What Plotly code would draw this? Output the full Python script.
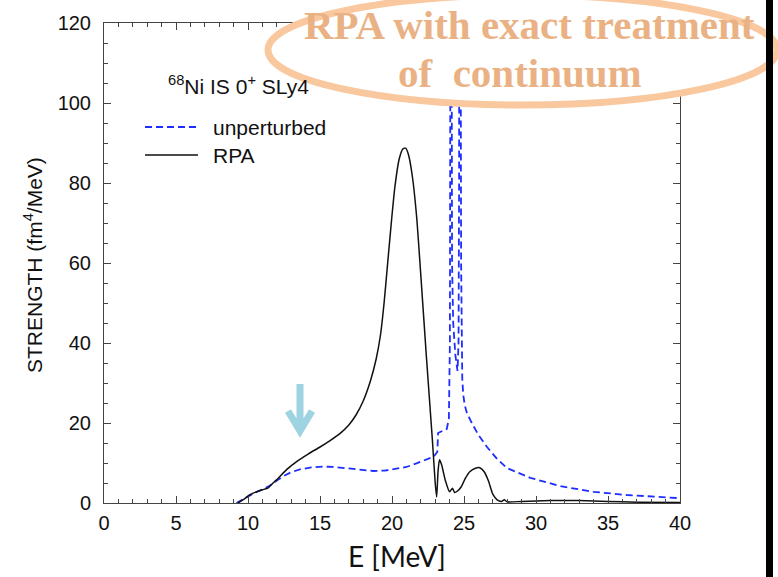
import plotly.graph_objects as go

# ---------------- data ----------------
rpa_E = [9.3, 9.7, 10.1, 10.6, 11.0, 11.4, 11.8, 12.1, 12.7, 13.4, 14.2, 15.0, 15.7, 16.4,
         17.0, 17.5, 18.0, 18.5, 18.9, 19.2, 19.45, 19.7, 19.95, 20.2, 20.5, 20.75, 20.95, 21.15,
         21.4, 21.7, 22.0, 22.4, 22.8, 23.0, 23.1, 23.2, 23.3, 23.45, 23.7, 24.0, 24.2, 24.35,
         24.55, 24.8, 25.1, 25.4, 25.8, 26.1, 26.4, 26.7, 27.0, 27.3, 27.6, 27.8, 28.0,
         29.0, 31.0, 33.0, 35.0, 37.0, 40.0]
rpa_S = [0.0, 0.9, 2.0, 2.8, 3.3, 3.8, 5.2, 6.2, 8.4, 10.4, 12.3, 14.0, 15.6, 17.4,
         19.5, 22.0, 25.5, 30.5, 36.0, 42.0, 50.0, 60.0, 70.0, 79.0, 86.0, 88.5, 88.7, 87.0,
         82.0, 72.0, 57.0, 36.0, 16.0, 5.0, 1.5, 8.0, 10.8, 9.5, 5.7, 2.8, 3.7, 2.6,
         3.0, 4.0, 6.2, 7.8, 8.7, 8.8, 7.8, 5.5, 2.2, 0.8, 0.4, 0.8, 0.3,
         0.4, 0.6, 0.6, 0.4, 0.2, 0.1]

unp_E = [9.2, 9.6, 10.0, 10.5, 11.0, 11.5, 12.0, 12.5, 13.0, 13.6, 14.4, 15.2, 16.0, 16.8,
         17.7, 18.7, 19.5, 20.1, 21.0, 21.7, 22.3, 22.9, 23.15, 23.2, 23.5, 23.8, 23.95,
         24.02, 24.07, 24.1, 24.13, 24.17, 24.25, 24.4, 24.55, 24.62, 24.66, 24.7, 24.75,
         24.8, 24.88, 24.95, 25.05, 25.2, 25.5, 26.0, 26.6, 27.3, 28.0, 29.6, 31.7, 34.0,
         36.3, 38.0, 40.0]
unp_S = [0.0, 0.8, 1.8, 2.6, 3.4, 4.3, 5.6, 6.8, 7.7, 8.4, 8.9, 9.1, 9.0, 8.7,
         8.2, 8.0, 8.1, 8.4, 9.0, 9.9, 10.7, 11.6, 12.8, 17.5, 18.0, 18.5, 21.0,
         40.0, 150.0, 300.0, 150.0, 60.0, 45.0, 37.0, 33.0, 40.0, 80.0, 300.0, 150.0,
         60.0, 31.0, 27.0, 24.5, 22.5, 20.3, 17.0, 14.0, 11.0, 8.7, 6.3, 4.2, 2.8,
         2.0, 1.6, 1.2]

x_ticks = [0, 5, 10, 15, 20, 25, 30, 35, 40]
y_ticks = [0, 20, 40, 60, 80, 100, 120]

# ---------------- layout helpers (pixel -> paper) ----------------
L, R, T, B = 104, 680, 23, 503
def px(x):
    return (x - L) / (R - L)
def py(y):
    return (B - y) / (B - T)

BLUE = "#1F2EFF"
SANS = "Liberation Sans, Arial, sans-serif"
TICKFONT = dict(family=SANS, size=20, color="#111")
ORANGE_TXT = "#EAB284"

fig = go.Figure()
fig.add_trace(go.Scatter(x=unp_E, y=unp_S, mode="lines", name="unperturbed",
                         line=dict(color=BLUE, width=1.8, dash="7px,4px"),
                         showlegend=False))
fig.add_trace(go.Scatter(x=rpa_E, y=rpa_S, mode="lines", name="RPA",
                         line=dict(color="#111", width=1.5, shape="spline", smoothing=0.6),
                         showlegend=False))

axis_common = dict(showline=True, linecolor="#444", linewidth=1, mirror="ticks",
                   ticks="inside", ticklen=7, tickcolor="#444", showgrid=False,
                   zeroline=False, tickfont=TICKFONT)
fig.update_xaxes(range=[0, 40], tickvals=x_ticks, ticklabelstandoff=2,
                 minor=dict(dtick=1, tick0=0, ticks="inside", ticklen=4, tickcolor="#444"),
                 **axis_common)
fig.update_yaxes(range=[0, 120], tickvals=y_ticks, ticklabelstandoff=8,
                 minor=dict(dtick=5, tick0=0, ticks="inside", ticklen=4, tickcolor="#444"),
                 **axis_common)

shapes = []
# legend samples
shapes.append(dict(type="line", xref="paper", yref="paper", x0=px(145), x1=px(198),
                   y0=py(127), y1=py(127), line=dict(color=BLUE, width=1.8, dash="7px,4px")))
shapes.append(dict(type="line", xref="paper", yref="paper", x0=px(145), x1=px(198),
                   y0=py(155), y1=py(155), line=dict(color="#111", width=1.5)))
# highlight ellipse (white filled)
shapes.append(dict(type="circle", xref="paper", yref="paper", x0=px(268), x1=px(777),
                   y0=py(105), y1=py(-5), line=dict(color="#F9C89F", width=7),
                   fillcolor="white", layer="above"))
# right black bar
shapes.append(dict(type="rect", xref="paper", yref="paper", x0=px(766), x1=px(773),
                   y0=py(580), y1=py(-3), fillcolor="black", line=dict(width=0), layer="above"))
# light blue arrow
shapes.append(dict(type="path", xref="paper", yref="paper",
                   path=f"M {px(300)} {py(384)} L {px(300)} {py(430)} "
                        f"M {px(288)} {py(411)} L {px(300)} {py(431)} L {px(312)} {py(411)}",
                   line=dict(color="#9ED3E1", width=7), layer="above"))
fig.update_layout(shapes=shapes)

ann = []
ann.append(dict(text="<sup>68</sup>Ni IS 0<sup>+</sup> SLy4", xref="paper", yref="paper",
                x=px(166), y=py(85), xanchor="left", yanchor="middle", showarrow=False,
                font=dict(family=SANS, size=21, color="#111")))
ann.append(dict(text="unperturbed", xref="paper", yref="paper", x=px(211), y=py(127),
                xanchor="left", yanchor="middle", showarrow=False,
                font=dict(family=SANS, size=21, color="#111")))
ann.append(dict(text="RPA", xref="paper", yref="paper", x=px(211), y=py(155),
                xanchor="left", yanchor="middle", showarrow=False,
                font=dict(family=SANS, size=21, color="#111")))
ann.append(dict(text="<b>RPA with exact treatment</b>", xref="paper", yref="paper",
                x=px(529), y=py(25), xanchor="center", yanchor="middle", showarrow=False,
                font=dict(family="Liberation Serif, serif", size=41, color=ORANGE_TXT)))
ann.append(dict(text="<b>of  continuum</b>", xref="paper", yref="paper",
                x=px(520), y=py(73), xanchor="center", yanchor="middle", showarrow=False,
                font=dict(family="Liberation Serif, serif", size=41, color=ORANGE_TXT)))
ann.append(dict(text="E [MeV]", xref="paper", yref="paper", x=px(397), y=py(556),
                xanchor="center", yanchor="middle", showarrow=False,
                font=dict(family="Lato, Open Sans, sans-serif", size=28, color="#111")))
ann.append(dict(text="STRENGTH (fm<sup>4</sup>/MeV)", xref="paper", yref="paper",
                x=px(33), y=py(265), xanchor="center", yanchor="middle", showarrow=False,
                textangle=-90,
                font=dict(family=SANS, size=21, color="#111")))
fig.update_layout(annotations=ann)

fig.update_layout(width=778, height=577, autosize=False,
                  margin=dict(l=L, r=778 - R, t=T, b=577 - B),
                  paper_bgcolor="white", plot_bgcolor="white")

fig.write_html("out.html")
